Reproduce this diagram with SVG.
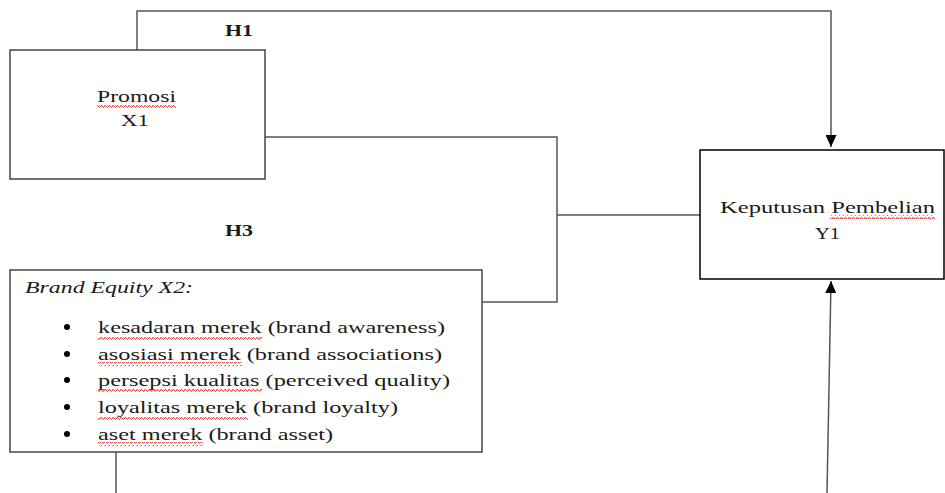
<svg xmlns="http://www.w3.org/2000/svg" width="945" height="493" viewBox="0 0 945 493">
<defs>
<style>
.box{fill:#fff;stroke:#444;stroke-width:1.5}
.conn{fill:none;stroke:#555;stroke-width:1.5}
.t{font-family:"Liberation Serif","Times New Roman",serif;font-size:17.5px;fill:#1a1a1a}
.b{font-weight:bold}
.i{font-style:italic}
.sq{fill:url(#wave)}
</style>
<pattern id="wave" width="4" height="4" patternUnits="userSpaceOnUse">
<path d="M0,3 Q1,0 2,2 T4,3" fill="none" stroke="#e03030" stroke-width="1"/>
</pattern>
<marker id="arr" markerWidth="12" markerHeight="11" refX="12" refY="5.5" orient="auto" markerUnits="userSpaceOnUse">
<path d="M0,0 L12,5.5 L0,11 Z" fill="#000"/>
</marker>
</defs>
<rect width="945" height="493" fill="#fff"/>
<g id="connectors">
<path class="conn" d="M137,50 V11 H831 V147" marker-end="url(#arr)"/>
<path class="conn" d="M265,137 H557 V302 H482"/>
<path class="conn" d="M557,215 H700"/>
<path class="conn" d="M116,452 V493"/>
<path class="conn" d="M827,493 L831,281" marker-end="url(#arr)"/>
</g>
<g id="label-h1"><text class="t b" x="225" y="36" textLength="28" lengthAdjust="spacingAndGlyphs">H1</text></g>
<g id="label-h3"><text class="t b" x="225" y="236" textLength="28" lengthAdjust="spacingAndGlyphs">H3</text></g>
<g id="promosi">
<rect class="box" x="10" y="50" width="255" height="129"/>
<text class="t" x="97" y="102" textLength="79" lengthAdjust="spacingAndGlyphs">Promosi</text>
<rect class="sq" x="97" y="104" width="79" height="4"/>
<text class="t" x="121" y="126" textLength="28" lengthAdjust="spacingAndGlyphs">X1</text>
</g>
<g id="keputusan">
<rect x="700" y="150" width="244" height="129" fill="#fff" stroke="#000" stroke-width="1.5"/>
<text class="t" x="720" y="213" textLength="215" lengthAdjust="spacingAndGlyphs">Keputusan Pembelian</text>
<rect class="sq" x="830" y="215" width="105" height="4"/>
<text class="t" x="815" y="239" textLength="25" lengthAdjust="spacingAndGlyphs">Y1</text>
</g>
<g id="brand-equity">
<rect class="box" x="10" y="270" width="472" height="182"/>
<text class="t i" x="25" y="293" textLength="168" lengthAdjust="spacingAndGlyphs">Brand Equity X2:</text>
<g fill="#000">
<circle cx="67" cy="327" r="3"/>
<circle cx="67" cy="354" r="3"/>
<circle cx="67" cy="380" r="3"/>
<circle cx="67" cy="407" r="3"/>
<circle cx="67" cy="434" r="3"/>
</g>
<text class="t" x="98" y="333" textLength="347" lengthAdjust="spacingAndGlyphs">kesadaran merek (brand awareness)</text>
<text class="t" x="98" y="360" textLength="344" lengthAdjust="spacingAndGlyphs">asosiasi merek (brand associations)</text>
<text class="t" x="98" y="386" textLength="352" lengthAdjust="spacingAndGlyphs">persepsi kualitas (perceived quality)</text>
<text class="t" x="98" y="413" textLength="300" lengthAdjust="spacingAndGlyphs">loyalitas merek (brand loyalty)</text>
<text class="t" x="98" y="440" textLength="235" lengthAdjust="spacingAndGlyphs">aset merek (brand asset)</text>
<rect class="sq" x="98" y="336" width="164" height="4"/>
<rect class="sq" x="98" y="362" width="144" height="4"/>
<rect class="sq" x="98" y="389" width="164" height="4"/>
<rect class="sq" x="98" y="416" width="150" height="4"/>
<rect class="sq" x="98" y="442" width="105" height="4"/>
</g>
</svg>
